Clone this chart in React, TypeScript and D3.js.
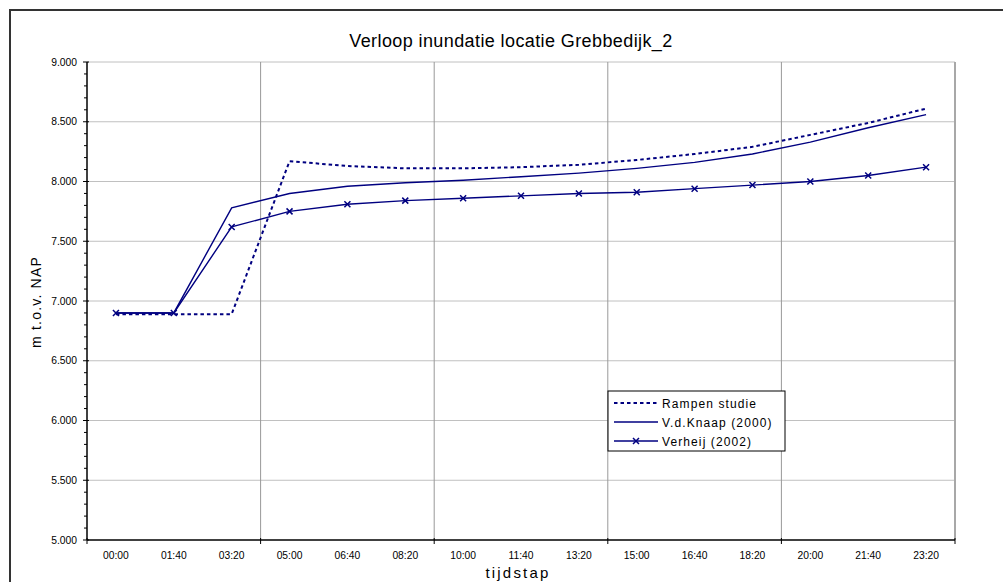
import React from "react";
import * as d3 from "d3";

const times = [
  "00:00", "01:40", "03:20", "05:00", "06:40", "08:20", "10:00", "11:40",
  "13:20", "15:00", "16:40", "18:20", "20:00", "21:40", "23:20",
];
const rampenStudie = [6.89, 6.89, 6.89, 8.17, 8.13, 8.11, 8.11, 8.12, 8.14, 8.18, 8.23, 8.29, 8.39, 8.49, 8.61];
const vdKnaap = [6.90, 6.90, 7.78, 7.90, 7.96, 7.99, 8.01, 8.04, 8.07, 8.11, 8.16, 8.23, 8.33, 8.45, 8.56];
const verheij = [6.90, 6.90, 7.62, 7.75, 7.81, 7.84, 7.86, 7.88, 7.90, 7.91, 7.94, 7.97, 8.00, 8.05, 8.12];
const yMajorTicks = [5, 5.5, 6, 6.5, 7, 7.5, 8, 8.5, 9];
const seriesNames = ["Rampen studie", "V.d.Knaap (2000)", "Verheij (2002)"];

const W = 1003;
const H = 582;
const FONT = "'Liberation Sans', Arial, sans-serif";
const NAVY = "#000080";

export default function App() {
  const left = 87, right = 955, top = 62, bottom = 540;
  const x = d3.scaleBand<string>().domain(times).range([left, right]).padding(0);
  const cx = (t: string) => (x(t) as number) + x.bandwidth() / 2;
  const y = d3.scaleLinear().domain([5, 9]).range([bottom, top]);
  const fmt = d3.format(".3f");
  const minorTicks = d3.range(5, 9.0001, 0.1).filter((v) => Math.abs(v * 2 - Math.round(v * 2)) > 1e-6);

  const line = d3
    .line<number>()
    .x((_, i) => cx(times[i]))
    .y((d) => y(d));

  const vGrid = times.map((_, i) => i).filter((i) => i % 3 === 0 && i > 0).map((i) => x(times[i]) as number);
  const xTickPos = [left, ...vGrid, right];

  const cross = (px: number, py: number, key: string | number) => (
    <path
      key={key}
      d={`M${px - 3},${py - 3}L${px + 3},${py + 3}M${px - 3},${py + 3}L${px + 3},${py - 3}`}
      stroke={NAVY}
      strokeWidth={1.5}
      fill="none"
    />
  );

  const legendX = 608, legendY = 391;
  const rowY = [403, 422, 441];

  return (
    <div style={{ position: "absolute", left: 0, top: 0 }}>
      <svg width={W} height={H} style={{ display: "block", background: "#fff" }} fontFamily={FONT}>
        {/* chart border: top and left edges fall inside the frame */}
        <path d={`M10,${H}V10H${W}`} fill="none" stroke="#333" strokeWidth={2} />

        <text x={511} y={47} textAnchor="middle" fontSize={18} letterSpacing={0.4} fill="#000">
          Verloop inundatie locatie Grebbedijk_2
        </text>

        {/* horizontal gridlines */}
        {yMajorTicks.filter((v) => v > 5).map((v) => (
          <line key={"h" + v} x1={left} x2={right} y1={y(v)} y2={y(v)} stroke="#c0c0c0" strokeWidth={1} />
        ))}
        {/* vertical gridlines */}
        {vGrid.map((gx, i) => (
          <line key={"v" + i} x1={gx} x2={gx} y1={top} y2={bottom} stroke="#999" strokeWidth={1} />
        ))}
        <line x1={right} x2={right} y1={top} y2={bottom} stroke="#a8a8a8" strokeWidth={2} />

        {/* y axis */}
        <line x1={left} x2={left} y1={top} y2={bottom} stroke="#000" strokeWidth={1.5} />
        {minorTicks.map((v, i) => (
          <line key={"m" + i} x1={left - 3} x2={left} y1={y(v)} y2={y(v)} stroke="#000" strokeWidth={1} />
        ))}
        {yMajorTicks.map((v) => (
          <g key={"t" + v}>
            <line x1={left - 4} x2={left + 2} y1={y(v)} y2={y(v)} stroke="#000" strokeWidth={1} />
            <text x={77} y={y(v) + 3.5} textAnchor="end" fontSize={10.3} fill="#000">
              {fmt(v)}
            </text>
          </g>
        ))}

        {/* x axis */}
        <line x1={left} x2={right} y1={bottom} y2={bottom} stroke="#000" strokeWidth={1.5} />
        {xTickPos.map((tx, i) => (
          <line key={"xt" + i} x1={tx} x2={tx} y1={bottom - 2} y2={bottom + 4} stroke="#000" strokeWidth={1} />
        ))}
        {times.map((t) => (
          <text key={t} x={cx(t)} y={559} textAnchor="middle" fontSize={10.3} fill="#000">
            {t}
          </text>
        ))}

        <text x={518} y={578} textAnchor="middle" fontSize={15} letterSpacing={2.2} fill="#000">
          tijdstap
        </text>
        <text
          transform={`translate(41,302) rotate(-90)`}
          textAnchor="middle"
          fontSize={14}
          letterSpacing={1.2}
          fill="#000"
        >
          m t.o.v. NAP
        </text>

        {/* series */}
        <path d={line(rampenStudie) || ""} fill="none" stroke={NAVY} strokeWidth={2} strokeDasharray="3.5 3" />
        <path d={line(vdKnaap) || ""} fill="none" stroke={NAVY} strokeWidth={1.4} />
        <path d={line(verheij) || ""} fill="none" stroke={NAVY} strokeWidth={1.4} />
        {verheij.map((v, i) => cross(cx(times[i]), y(v), "c" + i))}

        {/* legend */}
        <rect x={legendX} y={legendY} width={177} height={60} fill="#fff" stroke="#000" strokeWidth={1} />
        <line x1={614} x2={658} y1={rowY[0]} y2={rowY[0]} stroke={NAVY} strokeWidth={2} strokeDasharray="3.5 3" />
        <line x1={614} x2={658} y1={rowY[1]} y2={rowY[1]} stroke={NAVY} strokeWidth={1.4} />
        <line x1={614} x2={658} y1={rowY[2]} y2={rowY[2]} stroke={NAVY} strokeWidth={1.4} />
        {cross(636, rowY[2], "lc")}
        {seriesNames.map((s, i) => (
          <text key={s} x={662} y={rowY[i] + 4.5} fontSize={12} letterSpacing={1.1} fill="#000">
            {s}
          </text>
        ))}
      </svg>
    </div>
  );
}
